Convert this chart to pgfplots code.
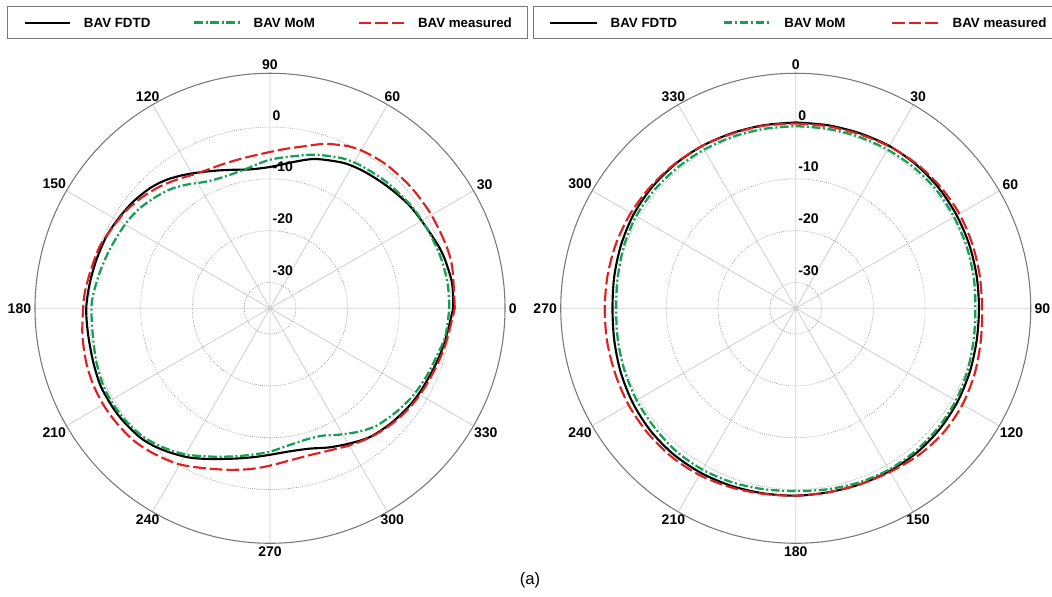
\documentclass[border=0pt]{standalone}
\usepackage{fontspec}
\setmainfont{Liberation Sans}
\usepackage{pgfplots}
\pgfplotsset{compat=1.18}
\usepackage{pgfplotstable}
\usepgfplotslibrary{polar}

\definecolor{momgreen}{RGB}{20,160,82}
\definecolor{measred}{RGB}{222,32,32}
\definecolor{spoke}{RGB}{208,208,208}
\definecolor{ring}{RGB}{150,150,150}
\definecolor{rim}{RGB}{120,120,120}

\newcommand{\lab}{\fontsize{10.5}{12}\selectfont\bfseries}

% ---------- left plot (angle counter-clockwise from right), dB ----------
\pgfplotstableread{
a db
0 0.4
8 0.5
17 0.0
25 -0.8
36 -1.5
46 -2.3
55 -2.9
62 -3.4
68 -4.2
74 -5.0
81 -6.4
90 -7.7
98 -7.9
105 -7.3
111 -6.5
117 -5.5
123 -4.3
129 -3.1
135 -2.2
142 -1.5
149 -1.0
156 -0.5
164 -0.2
172 0.15
180 0.5
188 0.5
197 0.7
205 1.0
213 0.9
219 0.7
226 0.3
233 -0.7
241 -2.1
248 -3.6
257 -5.2
264 -6.1
270 -6.7
278 -7.1
286 -6.8
293 -5.8
301 -4.6
308 -3.5
316 -2.8
324 -2.2
331 -1.8
340 -1.3
348 -0.7
356 -0.1
360 0.4
}\LeftFDTD

\pgfplotstableread{
a db
0 -0.35
8 -0.35
17 -0.6
27 -1.0
36 -1.3
47 -1.8
57 -2.3
64 -2.8
73 -4.0
80 -5.1
90 -6.3
100 -7.7
108 -8.1
116 -7.7
124 -6.2
130 -5.0
137 -4.0
144 -3.1
151 -2.6
160 -2.0
168 -1.4
175 -0.8
180 -0.5
188 -0.4
197 0.1
205 0.5
212 0.5
219 0.3
226 -0.2
233 -1.2
240 -2.4
248 -4.1
256 -5.5
263 -6.5
270 -7.3
278 -8.3
287 -8.7
293 -8.3
298 -7.3
305 -5.8
312 -4.4
321 -3.4
329 -2.6
337 -2.0
344 -1.5
351 -0.7
360 -0.35
}\LeftMoM

\pgfplotstableread{
a db
0 0.7
13 1.1
21 1.1
31 1.0
41 0.9
51 0.7
59 0.3
64 -0.2
68 -0.9
72 -1.6
78 -3.0
84 -4.0
90 -4.8
99 -5.5
107 -5.7
115 -5.6
120 -5.2
126 -4.3
132 -3.3
139 -2.3
146 -1.4
153 -0.8
160 0.0
168 0.4
175 0.9
180 1.1
188 1.6
196 2.0
203 2.2
210 2.2
217 2.0
224 1.7
231 1.0
239 0.0
246 -1.3
255 -2.7
263 -3.7
270 -4.6
278 -5.4
285 -5.6
293 -5.2
300 -4.4
308 -3.4
316 -2.6
323 -2.0
331 -1.5
340 -1.0
348 -0.4
356 0.2
360 0.7
}\LeftMeas

% ---------- right plot (compass angle, clockwise from top), dB ----------
\pgfplotstableread{
a db
0 0.9
10 0.9
20 1.0
30 1.2
40 1.2
50 1.1
60 0.9
70 0.7
80 0.5
90 0.4
100 0.5
110 0.8
120 1.1
130 1.3
140 1.4
150 1.3
160 1.2
170 1.1
180 1.2
190 1.3
200 1.5
210 1.7
220 1.8
230 1.7
240 1.4
250 1.0
260 0.6
270 0.4
280 0.6
290 0.9
300 1.2
310 1.3
320 1.3
330 1.2
340 1.0
350 0.9
360 0.9
}\RightFDTD

\pgfplotstableread{
a db
0 0.2
10 0.2
20 0.3
30 0.4
40 0.5
50 0.5
60 0.3
70 0.1
80 -0.1
90 -0.3
100 -0.1
110 0.3
120 0.7
130 0.9
140 1.0
150 1.0
160 0.8
170 0.5
180 0.3
190 0.5
200 0.8
210 1.0
220 1.0
230 0.7
240 0.5
250 0.2
260 -0.1
270 -0.3
280 -0.1
290 0.3
300 0.6
310 0.6
320 0.5
330 0.4
340 0.3
350 0.2
360 0.2
}\RightMoM

\pgfplotstableread{
a db
0 0.7
10 0.7
20 0.8
30 1.1
40 1.4
50 1.5
60 1.5
70 1.3
80 1.1
90 1.0
100 1.3
110 1.8
120 2.2
130 2.3
140 2.0
150 1.5
160 1.2
170 1.1
180 1.2
190 1.4
200 1.8
210 2.2
220 2.4
230 2.4
240 2.3
250 2.1
260 2.0
270 1.9
280 1.9
290 1.9
300 1.8
310 1.6
320 1.4
330 1.2
340 0.9
350 0.8
360 0.7
}\RightMeas

\pgfplotsset{
  fdtd/.style={black, line width=1.6pt, smooth, tension=0.5},
  mom/.style={momgreen, line width=1.7pt, dash pattern=on 6.5pt off 2pt on 1.5pt off 2pt, smooth, tension=0.5},
  meas/.style={measred, line width=1.6pt, dash pattern=on 9.5pt off 3pt, smooth, tension=0.5},
  mypolar/.style={
    anchor=center, width=352.5pt, height=352.5pt, scale only axis,
    xmin=0, xmax=360, ymin=0, ymax=45.4,
    xtick={0,30,...,330}, xticklabels={},
    ytick={5,15,25,35}, yticklabels={},
    xmajorgrids, ymajorgrids,
    x grid style={spoke, line width=0.6pt},
    y grid style={ring, line width=0.5pt, densely dotted},
    axis line style={rim, line width=0.8pt},
    y axis line style={draw=none},
    major tick length=0pt,
    clip=false,
    legend columns=3,
    legend cell align=left,
  },
}

\newcommand{\alab}[3]{\node[font=\lab, inner sep=0pt, anchor=#2] at (axis cs:#1,46.1) {#3};}
\newcommand{\rlab}[2]{\node[font=\lab, inner sep=0pt, anchor=south west, xshift=1.8pt, yshift=5pt] at (axis cs:90,#1) {#2};}

\begin{document}
\begin{tikzpicture}
\useasboundingbox (0pt,0pt) rectangle (789pt,-447pt);

% ================= left =================
\begin{polaraxis}[mypolar,
  at={(202.5pt,-231.2pt)},
  legend image code/.code={\draw[#1] (0pt,0pt) -- (34pt,0pt);},
  legend style={at={(0,1)}, anchor=south west, xshift=-21pt, yshift=25.7pt,
    draw=rim, line width=0.8pt, inner xsep=12pt, inner ysep=8pt,
    font=\fontsize{10}{12}\selectfont\bfseries,
    nodes={inner sep=0pt, text height=7.3pt, text depth=0.5pt},
    /tikz/every odd column/.append style={column sep=9.75pt},
    /tikz/every even column/.append style={column sep=32pt}},
]
\addplot[fdtd] table[x=a, y expr=\thisrow{db}+35] {\LeftFDTD};
\addlegendentry{BAV FDTD}
\addplot[mom] table[x=a, y expr=\thisrow{db}+35] {\LeftMoM};
\addlegendentry{BAV MoM}
\addplot[meas] table[x=a, y expr=\thisrow{db}+35] {\LeftMeas};
\addlegendentry{BAV measured}
\alab{0}{180}{0}
\alab{30}{210}{30}
\alab{60}{240}{60}
\alab{90}{270}{90}
\alab{120}{300}{120}
\alab{150}{330}{150}
\alab{180}{0}{180}
\alab{210}{30}{210}
\alab{240}{60}{240}
\alab{270}{90}{270}
\alab{300}{120}{300}
\alab{330}{150}{330}
\rlab{35}{0}
\rlab{25}{-10}
\rlab{15}{-20}
\rlab{5}{-30}
\end{polaraxis}

% ================= right =================
\begin{polaraxis}[mypolar,
  at={(596.8pt,-231.2pt)},
  legend image code/.code={\draw[#1] (0pt,0pt) -- (35pt,0pt);},
  legend style={at={(0,1)}, anchor=south west, xshift=-20.8pt, yshift=25.7pt,
    draw=rim, line width=0.8pt, inner xsep=11.5pt, inner ysep=8pt,
    font=\fontsize{10}{12}\selectfont\bfseries,
    nodes={inner sep=0pt, text height=7.3pt, text depth=0.5pt},
    /tikz/every odd column/.append style={column sep=9.75pt},
    /tikz/every even column/.append style={column sep=34pt}},
]
\addplot[fdtd] table[x expr=90-\thisrow{a}, y expr=\thisrow{db}+35] {\RightFDTD};
\addlegendentry{BAV FDTD}
\addplot[mom] table[x expr=90-\thisrow{a}, y expr=\thisrow{db}+35] {\RightMoM};
\addlegendentry{BAV MoM}
\addplot[meas] table[x expr=90-\thisrow{a}, y expr=\thisrow{db}+35] {\RightMeas};
\addlegendentry{BAV measured}
\alab{90}{270}{0}
\alab{60}{240}{30}
\alab{30}{210}{60}
\alab{0}{180}{90}
\alab{330}{150}{120}
\alab{300}{120}{150}
\alab{270}{90}{180}
\alab{240}{60}{210}
\alab{210}{30}{240}
\alab{180}{0}{270}
\alab{150}{330}{300}
\alab{120}{300}{330}
\rlab{35}{0}
\rlab{25}{-10}
\rlab{15}{-20}
\rlab{5}{-30}
\end{polaraxis}

\node[font=\fontsize{12.5}{14}\selectfont] at (397.5pt,-435pt) {(a)};
\end{tikzpicture}
\end{document}
